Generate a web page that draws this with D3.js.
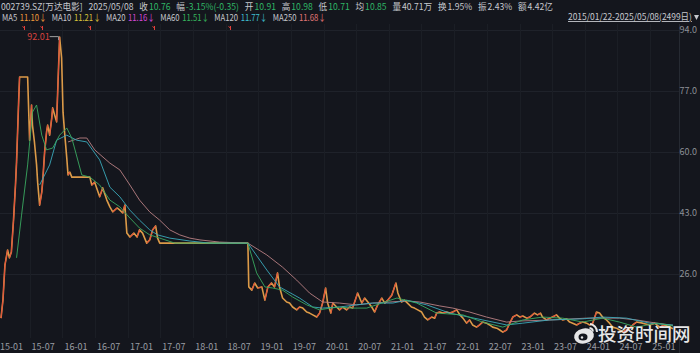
<!DOCTYPE html>
<html>
<head>
<meta charset="utf-8">
<script src="https://cdn.jsdelivr.net/npm/d3@7"></script>
<style>
  html, body { margin: 0; padding: 0; background: #14161d; }
  svg { display: block; }
  text { font-family: "Noto Sans CJK SC", "Noto Sans", sans-serif; }
</style>
</head>
<body>
<svg id="chart" width="700" height="353"></svg>
<script>
const priceDates = [
  '2015-01-22','2015-02-02','2015-02-13','2015-02-28','2015-03-10','2015-03-21','2015-04-02','2015-04-13','2015-04-19','2015-05-01',
  '2015-05-06','2015-06-20','2015-07-01','2015-07-12','2015-07-17','2015-07-28','2015-08-09','2015-08-15','2015-08-26','2015-09-07',
  '2015-09-12','2015-09-23','2015-10-04','2015-10-10','2015-10-21','2015-11-02','2015-11-07','2015-11-18','2015-11-29','2015-12-05',
  '2015-12-16','2015-12-27','2016-01-04','2016-01-14','2016-01-25','2016-02-01','2016-02-11','2016-02-22','2016-06-02','2016-06-13',
  '2016-06-29','2016-07-27','2016-08-13','2016-09-05','2016-09-22','2016-10-08','2016-11-01','2016-11-17','2016-12-03','2016-12-15',
  '2016-12-26','2017-01-12','2017-02-03','2017-02-21','2017-03-07','2017-03-24','2017-04-16','2017-05-03','2017-05-19','2017-06-05',
  '2017-06-16','2017-06-28','2018-11-03','2018-11-08','2018-11-25','2018-12-11','2018-12-28','2019-01-20','2019-02-06','2019-02-23',
  '2019-03-15','2019-04-01','2019-04-18','2019-04-29','2019-05-16','2019-06-08','2019-06-24','2019-07-11','2019-08-03','2019-08-19',
  '2019-09-06','2019-09-28','2019-10-14','2019-11-01','2019-11-23','2019-12-09','2019-12-26','2020-01-12','2020-01-23','2020-02-10',
  '2020-02-21','2020-03-13','2020-03-30','2020-04-16','2020-05-08','2020-05-25','2020-06-11','2020-07-09','2020-08-01','2020-08-17',
  '2020-09-04','2020-09-26','2020-10-12','2020-10-29','2020-11-21','2020-12-08','2020-12-24','2021-01-16','2021-02-08','2021-02-19',
  '2021-03-11','2021-03-28','2021-04-14','2021-05-06','2021-05-23','2021-06-10','2021-07-02','2021-07-18','2021-08-05','2021-08-27',
  '2021-09-13','2021-09-24','2021-10-11','2021-10-28','2021-11-19','2021-12-06','2021-12-23','2022-01-14','2022-02-01','2022-02-18',
  '2022-03-10','2022-03-27','2022-04-13','2022-05-05','2022-05-22','2022-06-08','2022-06-30','2022-07-17','2022-08-03','2022-08-26',
  '2022-09-12','2022-09-29','2022-10-20','2022-11-07','2022-11-24','2022-12-16','2023-01-03','2023-01-19','2023-02-10','2023-02-27',
  '2023-03-25','2023-04-11','2023-04-28','2023-05-09','2023-06-01','2023-06-17','2023-07-04','2023-07-26','2023-08-12','2023-08-29',
  '2023-09-21','2023-10-08','2023-10-25','2023-11-16','2023-12-03','2023-12-20','2024-01-11','2024-01-28','2024-02-14','2024-03-06',
  '2024-03-23','2024-04-09','2024-05-01','2024-05-18','2024-06-04','2024-06-26','2024-07-13','2024-07-30','2024-08-21','2024-09-08',
  '2024-09-25','2024-10-16','2024-11-19','2024-12-28','2025-01-25','2025-02-23','2025-03-21','2025-04-18','2025-05-08'
];
const priceCloses = [
  13.7, 18.8, 28.5, 32.7, 30.5, 32.1, 41.0, 50.8, 57.2, 74.5,
  80.9, 80.9, 63.3, 73.1, 67.5, 62.8, 56.4, 51.6, 45.2, 48.8,
  51.6, 60.0, 65.6, 67.5, 64.7, 69.5, 72.3, 70.3, 68.4, 76.7,
  92.01, 86.2, 71.1, 64.7, 58.3, 53.6, 54.4, 53.0, 53.0, 50.8,
  51.6, 47.5, 50.0, 46.6, 44.7, 43.3, 44.4, 43.8, 43.0, 45.2,
  37.4, 36.3, 37.4, 36.3, 38.3, 37.4, 34.6, 35.5, 38.3, 39.4,
  36.0, 34.6, 34.6, 22.4, 21.5, 23.5, 22.1, 22.4, 18.7, 22.4,
  23.5, 22.4, 26.3, 22.4, 19.3, 18.2, 17.9, 16.8, 16.0, 16.8,
  16.5, 15.4, 15.1, 14.6, 14.0, 15.1, 17.9, 22.1, 17.9, 15.1,
  17.9, 16.8, 16.0, 16.8, 16.0, 16.8, 16.5, 20.7, 17.9, 19.3,
  18.2, 16.8, 15.4, 17.4, 19.3, 17.9, 18.7, 20.1, 23.5, 20.7,
  18.2, 18.7, 17.9, 16.8, 16.5, 16.0, 15.4, 14.0, 13.2, 14.0,
  13.7, 15.1, 15.4, 15.1, 15.4, 15.1, 15.4, 16.0, 14.6, 13.7,
  12.3, 13.2, 11.8, 11.2, 11.8, 12.6, 12.3, 11.8, 11.2, 10.9,
  10.4, 9.8, 10.4, 12.3, 14.0, 14.6, 14.0, 14.3, 13.7, 14.0,
  15.1, 14.6, 15.1, 14.0, 13.2, 13.7, 14.0, 14.6, 13.7, 13.2,
  13.5, 12.6, 12.3, 11.8, 12.3, 12.6, 12.3, 11.8, 12.3, 15.4,
  15.1, 14.0, 13.2, 12.3, 11.2, 10.9, 10.4, 9.8, 10.4, 10.9,
  11.8, 12.6, 12.3, 11.8, 12.3, 11.2, 11.8, 11.2, 10.76
];

// moving averages
const ma60Dates = [
  '2015-04-19','2015-05-17','2015-06-20','2015-07-17','2015-08-09','2015-09-07','2015-10-04','2015-11-07','2015-12-16','2016-01-25',
  '2016-02-22','2016-04-18','2016-06-02','2016-07-27','2016-09-22','2016-11-17','2017-01-12','2017-03-07','2017-05-03','2017-06-28',
  '2017-09-21','2018-11-03','2018-12-22','2019-02-06','2019-03-21','2019-05-16','2019-07-11','2019-09-28','2019-12-09','2020-02-05',
  '2020-03-30','2020-06-06','2020-08-29','2020-11-21','2021-02-14','2021-06-04','2021-09-24','2022-02-18','2022-06-08','2022-09-29',
  '2023-01-19','2023-05-09','2023-08-29','2023-12-20','2024-04-09','2024-07-13','2024-10-16','2025-02-06','2025-05-08'
];
const ma60Values = [
  30.5, 42.4, 56.4, 71.1, 73.1, 64.7, 60.6, 61.1, 64.7, 66.7,
  63.9, 53.6, 53.0, 50.8, 46.6, 44.7, 41.6, 38.8, 36.9, 36.0,
  34.6, 34.6, 26.3, 22.4, 22.1, 21.5, 19.6, 17.4, 16.0, 16.5,
  16.8, 16.5, 16.5, 17.9, 19.3, 17.9, 15.1, 14.6, 12.6, 11.2,
  13.2, 14.0, 13.7, 12.6, 13.7, 12.6, 11.2, 12.3, 11.51
];
const ma120Dates = [
  '2015-08-26','2015-10-21','2015-11-29','2016-01-25','2016-03-20','2016-05-16','2016-07-27','2016-09-22','2016-11-17','2017-01-12',
  '2017-03-07','2017-05-03','2017-06-16','2017-08-23','2017-12-13','2018-04-03','2018-11-03','2019-02-17','2019-04-29','2019-08-19',
  '2019-11-01','2019-12-26','2020-03-30','2020-07-03','2020-10-01','2021-01-22','2021-04-09','2021-07-30','2021-12-06','2022-06-08',
  '2022-10-20','2023-01-19','2023-06-17','2023-12-20','2024-04-09','2024-08-21','2024-12-28','2025-05-08'
];
const ma120Values = [
  50.8, 56.4, 63.3, 64.7, 63.3, 62.8, 57.8, 50.2, 47.5, 43.8,
  41.0, 38.3, 36.9, 36.0, 35.2, 34.6, 34.6, 27.1, 22.4, 19.3,
  16.8, 16.5, 16.8, 17.4, 17.9, 17.9, 18.7, 17.4, 15.1, 13.2,
  11.8, 12.3, 13.2, 13.5, 14.0, 13.7, 12.3, 11.77
];
const ma250Dates = [
  '2016-02-01','2016-04-07','2016-05-16','2016-06-29','2016-09-22','2016-11-17','2017-01-12','2017-03-07','2017-05-03','2017-06-28',
  '2017-08-23','2017-10-18','2017-12-13','2018-02-08','2018-05-29','2018-11-03','2019-02-17','2019-05-16','2019-08-03','2019-10-14',
  '2019-12-26','2020-03-30','2020-07-03','2020-10-01','2021-01-05','2021-04-09','2021-06-21','2021-10-11','2021-12-23','2022-03-27',
  '2022-06-30','2022-10-20','2023-01-03','2023-07-04','2024-01-11','2024-07-13','2024-10-16','2024-12-28','2025-05-08'
];
const ma250Values = [
  62.8, 63.9, 63.9, 60.6, 56.9, 55.0, 50.8, 46.6, 43.3, 41.0,
  38.3, 36.9, 36.0, 35.5, 34.9, 34.6, 31.3, 27.9, 24.3, 20.7,
  18.2, 17.9, 17.4, 17.9, 18.2, 18.5, 18.2, 17.1, 16.5, 15.4,
  14.0, 12.6, 12.9, 13.2, 13.7, 13.7, 13.2, 12.6, 11.68
];

// axis ticks
const yTicks = [94.0, 77.0, 60.0, 43.0, 26.0];
const xTicks = [
  '2015-01-01','2015-07-01','2016-01-01','2016-07-01','2017-01-01','2017-07-01','2018-01-01','2018-07-01','2019-01-01','2019-07-01',
  '2020-01-01','2020-07-01','2021-01-01','2021-07-01','2022-01-01','2022-07-01','2023-01-01','2023-07-01','2024-01-01','2024-07-01',
  '2025-01-01'
];
// small red info markers along the top
const markDates = ['2015-05-28','2015-09-07','2016-06-02','2017-05-25','2018-07-24'];

// header quote texts: [label, value, value style]
const quoteItems = [
  ['002739.SZ[万达电影]', '', 'label'], ['2025/05/08', '', 'label'], ['收', '10.76', 'down'],
  ['幅', '-3.15%(-0.35)', 'down'], ['开', '10.91', 'down'], ['高', '10.98', 'down'],
  ['低', '10.71', 'down'], ['均', '10.85', 'down'], ['量', '40.71万', 'label'],
  ['换', '1.95%', 'label'], ['振', '2.43%', 'label'], ['额', '4.42亿', 'label']
];
const maNames = ['MA5', 'MA10', 'MA20', 'MA60', 'MA120', 'MA250'];
const maLatest = ['11.10', '11.21', '11.16', '11.51', '11.77', '11.68'];
const rangeText = '2015/01/22-2025/05/08(2499日)';

const parse = d3.timeParse('%Y-%m-%d');
const fmtTick = d3.timeFormat('%y-%m');

const svg = d3.select('#chart');
const W = 700, H = 353, plotRight = 679;

const maColors = ['#ee9a3a', '#d9c23a', '#d247d6', '#36b45c', '#3fbfd0', '#e07575'];
const textColors = { label: '#c6c8cd', down: '#2fb565' };

svg.append('rect').attr('width', W).attr('height', H).attr('fill', '#14161d');

const x = d3.scaleTime()
    .domain([parse('2015-01-22'), parse('2025-05-08')])
    .range([1, 673]);
const y = d3.scaleLinear()
    .domain([94, 26])
    .range([30, 274]);

// grid
const grid = svg.append('g');
grid.selectAll('.hgrid')
    .data(yTicks)
  .join('line')
    .attr('x1', 0).attr('x2', plotRight)
    .attr('y1', d => Math.round(y(d)) + 0.5).attr('y2', d => Math.round(y(d)) + 0.5)
    .attr('stroke', '#1f222a');
grid.selectAll('.vgrid')
    .data(xTicks.map(parse))
  .join('line')
    .attr('x1', d => Math.round(x(d)) + 0.5).attr('x2', d => Math.round(x(d)) + 0.5)
    .attr('y1', 24).attr('y2', 338)
    .attr('stroke', '#1b1e25');
grid.append('line')
    .attr('x1', plotRight + 0.5).attr('x2', plotRight + 0.5)
    .attr('y1', 24).attr('y2', 353)
    .attr('stroke', '#262a32');

// y labels
svg.append('g').selectAll('text')
    .data(yTicks)
  .join('text')
    .attr('x', 697)
    .attr('y', d => y(d) + 3)
    .attr('text-anchor', 'end')
    .attr('font-size', '9px')
    .attr('fill', '#8d9097')
    .text(d => d.toFixed(1));

// x labels
svg.append('g').selectAll('text')
    .data(xTicks.map(parse))
  .join('text')
    .attr('x', d => Math.max(0, x(d) + 2))
    .attr('y', 350)
    .attr('font-size', '9px')
    .attr('fill', '#9a9da3')
    .text(d => fmtTick(d));

const plot = svg.append('g');

// price trace
const price = priceDates.map((d, i) => ({ date: parse(d), v: priceCloses[i] }));
const line = d3.line().x(d => x(d.date)).y(d => y(d.v));

plot.append('path')
    .datum(price)
    .attr('d', line)
    .attr('fill', 'none')
    .attr('stroke', '#dc9a48')
    .attr('stroke-width', 1.6)
    .attr('stroke-linejoin', 'round');

// rising stretches drawn in red on top
const ups = d3.pairs(price).filter(p => p[1].v > p[0].v);
plot.selectAll('.up')
    .data(ups)
  .join('path')
    .attr('d', d => line(d))
    .attr('fill', 'none')
    .attr('stroke', '#e2513c')
    .attr('stroke-width', 1.1);

// moving average lines
const maSeries = [
  { dates: ma250Dates, values: ma250Values, color: '#b88083' },
  { dates: ma120Dates, values: ma120Values, color: '#3aa9ba' },
  { dates: ma60Dates, values: ma60Values, color: '#3aa861' }
];
maSeries.forEach(s => {
  const pts = s.dates.map((d, i) => ({ date: parse(d), v: s.values[i] }));
  plot.append('path')
      .datum(pts)
      .attr('d', line)
      .attr('fill', 'none')
      .attr('stroke', s.color)
      .attr('stroke-width', 1)
      .attr('opacity', 0.9);
});

// max price label
const maxIdx = d3.maxIndex(priceCloses);
const mx = x(parse(priceDates[maxIdx])), my = y(priceCloses[maxIdx]);
svg.append('line')
    .attr('x1', mx - 10).attr('x2', mx - 1)
    .attr('y1', my - 0.5).attr('y2', my - 0.5)
    .attr('stroke', '#a0a0a0');
svg.append('line')
    .attr('x1', mx - 1).attr('x2', mx - 1)
    .attr('y1', my - 0.5).attr('y2', my + 3)
    .attr('stroke', '#a0a0a0');
svg.append('text')
    .attr('x', mx - 10)
    .attr('y', my + 2.5)
    .attr('text-anchor', 'end')
    .attr('font-size', '9px')
    .attr('fill', '#d8433d')
    .text(priceCloses[maxIdx].toFixed(2));

// info markers
svg.append('g').selectAll('path')
    .data(markDates.map(parse))
  .join('path')
    .attr('d', d => {
      const px = Math.round(x(d)) + 0.5;
      return `M${px},26 L${px},30 M${px - 2},26.5 L${px},28`;
    })
    .attr('stroke', '#e0403a')
    .attr('stroke-width', 1)
    .attr('fill', 'none');

// lay text pieces out one after another, then squeeze the row to a target width
function flowRow(parts, left, right, baseline) {
  const g = svg.append('g');
  let cx = 0;
  parts.forEach(p => {
    if (!p.text) return;
    cx += p.before;
    const t = g.append('text')
        .attr('x', cx).attr('y', baseline)
        .attr('font-size', '9px')
        .attr('fill', p.color)
        .text(p.text);
    cx += t.node().getComputedTextLength();
  });
  const s = (right - left) / cx;
  g.attr('transform', `translate(${left},0) scale(${s},1)`);
  return g;
}

// header row 1: quote
const row1 = [];
quoteItems.forEach((d, i) => {
  row1.push({ text: d[0], color: textColors.label, before: i === 0 ? 0 : 6 });
  row1.push({ text: d[1], color: textColors[d[2]], before: 1 });
});
flowRow(row1, 1, 553, 10);

// header row 2: moving average legend
const row2 = [];
maNames.forEach((name, i) => {
  row2.push({ text: name, color: textColors.label, before: i === 0 ? 0 : 6 });
  row2.push({ text: maLatest[i] + '↓', color: maColors[i], before: 3 });
});
flowRow(row2, 2, 326, 21);

// date range
const rangeG = flowRow([{ text: rangeText, color: '#c6c8cd', before: 0 }], 568, 692, 20);
rangeG.select('text').attr('text-decoration', 'underline');
svg.append('path')
    .attr('d', 'M694,15 L699,15 L696.5,20 Z')
    .attr('fill', '#c6c8cd');

// watermark
const wm = svg.append('g').attr('opacity', 0.95);
wm.append('ellipse')
    .attr('cx', 584).attr('cy', 336).attr('rx', 10).attr('ry', 7.5)
    .attr('transform', 'rotate(-12,584,336)')
    .attr('fill', '#f2f2f2');
wm.append('ellipse')
    .attr('cx', 583).attr('cy', 337).attr('rx', 4.5).attr('ry', 3.5)
    .attr('fill', '#14161d');
wm.append('circle')
    .attr('cx', 582).attr('cy', 337.5).attr('r', 1.2)
    .attr('fill', '#f2f2f2');
wm.append('path')
    .attr('d', 'M590,324 A8,8 0 0 1 597,332')
    .attr('stroke', '#f2f2f2').attr('stroke-width', 2).attr('fill', 'none');
wm.append('path')
    .attr('d', 'M589.5,328 A4,4 0 0 1 593,331.5')
    .attr('stroke', '#f2f2f2').attr('stroke-width', 1.8).attr('fill', 'none');
wm.append('text')
    .attr('x', 598).attr('y', 341)
    .attr('font-size', '18.5px')
    .attr('font-weight', 500)
    .attr('fill', '#f2f2f2')
    .text('投资时间网');
</script>
</body>
</html>
